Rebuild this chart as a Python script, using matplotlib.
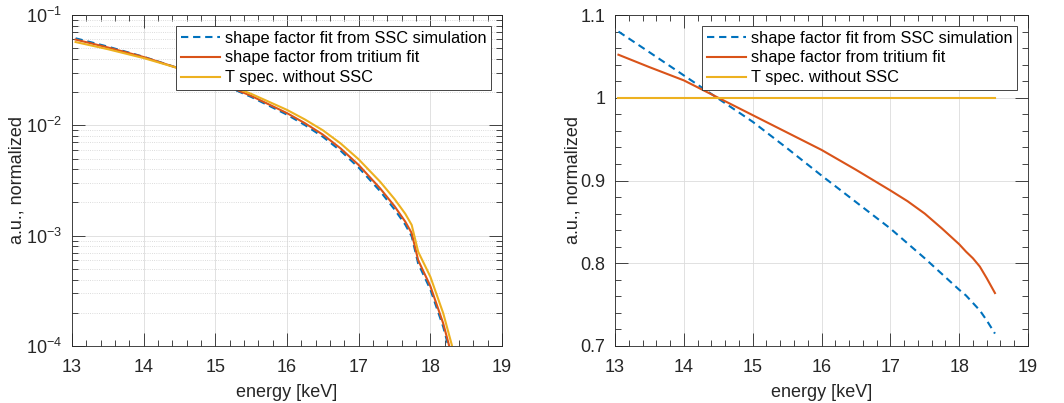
import matplotlib
matplotlib.use('Agg')
import matplotlib.pyplot as plt
from matplotlib.ticker import MultipleLocator, FuncFormatter, LogLocator, NullFormatter

plt.rcParams['font.family'] = ['Liberation Sans', 'DejaVu Sans']
plt.rcParams['mathtext.fontset'] = 'custom'
plt.rcParams['mathtext.rm'] = 'Liberation Sans'

# left panel: spectra (energy in keV)
energy = [13.05, 13.5, 14.0, 14.5, 15.0, 15.5, 16.0, 16.25, 16.5, 16.75, 17.0, 17.3, 17.5,
          17.65, 17.74, 17.83, 18.0, 18.18, 18.3, 18.4, 18.52]
specSSC = [6.15e-2, 5.17e-2, 4.18e-2, 3.27e-2, 2.50e-2, 1.81e-2, 1.25e-2, 1.006e-2, 7.88e-3,
           5.87e-3, 4.14e-3, 2.53e-3, 1.73e-3, 1.26e-3, 9.86e-4, 5.60e-4, 3.26e-4, 1.49e-4,
           7.58e-5, 3.27e-5, 9.0e-6]
specTritium = [5.99e-2, 5.08e-2, 4.16e-2, 3.27e-2, 2.52e-2, 1.85e-2, 1.29e-2, 1.045e-2, 8.24e-3,
               6.16e-3, 4.37e-3, 2.68e-3, 1.85e-3, 1.34e-3, 1.055e-3, 6.00e-4, 3.49e-4, 1.60e-4,
               8.12e-5, 3.50e-5, 9.6e-6]
specNoSSC = [5.69e-2, 4.90e-2, 4.07e-2, 3.27e-2, 2.57e-2, 1.93e-2, 1.38e-2, 1.13e-2, 9.02e-3,
             6.84e-3, 4.92e-3, 3.08e-3, 2.15e-3, 1.58e-3, 1.25e-3, 7.16e-4, 4.25e-4, 1.98e-4,
             1.02e-4, 4.47e-5, 1.26e-5]

# right panel: ratio to spectrum without SSC
energyRatio = [13.05, 13.5, 14.0, 14.5, 15.0, 15.5, 16.0, 16.5, 17.0, 17.25, 17.5,
               17.75, 18.0, 18.1, 18.2, 18.3, 18.4, 18.52]
ratioSSC = [1.080, 1.055, 1.027, 0.999, 0.971, 0.939, 0.906, 0.874, 0.842, 0.824, 0.806,
            0.787, 0.768, 0.761, 0.752, 0.743, 0.731, 0.715]
ratioTritium = [1.052, 1.037, 1.021, 1.000, 0.979, 0.958, 0.937, 0.913, 0.888, 0.875, 0.860,
                0.842, 0.823, 0.814, 0.806, 0.796, 0.782, 0.764]
ratioNoSSC = [1.0] * len(energyRatio)

labels = ['shape factor fit from SSC simulation', 'shape factor from tritium fit', 'T spec. without SSC']
colors = ['#0072BD', '#D95319', '#EDB120']
axcol = '#262626'

fig = plt.figure(figsize=(10.64, 4.03), dpi=100)
axL = fig.add_axes([72 / 1064, 1 - 346 / 403, 430 / 1064, 331 / 403])
axR = fig.add_axes([615 / 1064, 1 - 346 / 403, 413 / 1064, 331 / 403])

def style(ax, ypad):
    for s in ax.spines.values():
        s.set_color(axcol)
        s.set_linewidth(0.6)
    ax.tick_params(which='both', direction='in', top=True, right=True, colors=axcol,
                   labelsize=13, width=0.6, pad=7)
    ax.tick_params(axis='x', which='both', pad=9)
    ax.tick_params(which='major', length=9.5)
    ax.tick_params(which='minor', length=4.5)
    ax.set_xlim(13, 19)
    ax.xaxis.set_major_locator(MultipleLocator(1))
    ax.xaxis.set_minor_locator(MultipleLocator(0.2))
    ax.grid(True, which='major', color='#dcdcdc', linewidth=0.6)
    ax.set_axisbelow(True)
    ax.set_xlabel('energy [keV]', fontsize=13, color=axcol, labelpad=6)
    ax.set_ylabel('a.u., normalized', fontsize=13, color=axcol, labelpad=ypad)

def draw(ax, x, ys):
    ax.plot(x, ys[0], color=colors[0], lw=1.5, dashes=(3.5, 2.3), label=labels[0])
    ax.plot(x, ys[1], color=colors[1], lw=1.5, label=labels[1])
    ax.plot(x, ys[2], color=colors[2], lw=1.5, label=labels[2])
    leg = ax.legend(loc='upper right', fontsize=11.8, fancybox=False, framealpha=1,
                    borderpad=0.25, labelspacing=0.3, handlelength=2.4, handletextpad=0.3,
                    borderaxespad=0.7)
    leg.get_frame().set_edgecolor(axcol)
    leg.get_frame().set_linewidth(0.6)

# left: log spectra
axL.set_yscale('log')
draw(axL, energy, [specSSC, specTritium, specNoSSC])
style(axL, 0.5)
axL.set_ylim(1e-4, 1e-1)
axL.yaxis.set_major_locator(LogLocator(base=10, numticks=10))
axL.yaxis.set_minor_locator(LogLocator(base=10, subs=range(2, 10), numticks=10))
axL.yaxis.set_minor_formatter(NullFormatter())
axL.grid(True, which='minor', axis='y', color='#d0d0d0', linewidth=0.6, linestyle=':')

# right: ratios
draw(axR, energyRatio, [ratioSSC, ratioTritium, ratioNoSSC])
style(axR, -1)
axR.set_ylim(0.7, 1.1)
axR.yaxis.set_major_locator(MultipleLocator(0.1))
axR.yaxis.set_minor_locator(MultipleLocator(0.02))
axR.yaxis.set_major_formatter(FuncFormatter(lambda v, p: '%g' % round(v, 2)))

fig.savefig('out.png', dpi=100)
